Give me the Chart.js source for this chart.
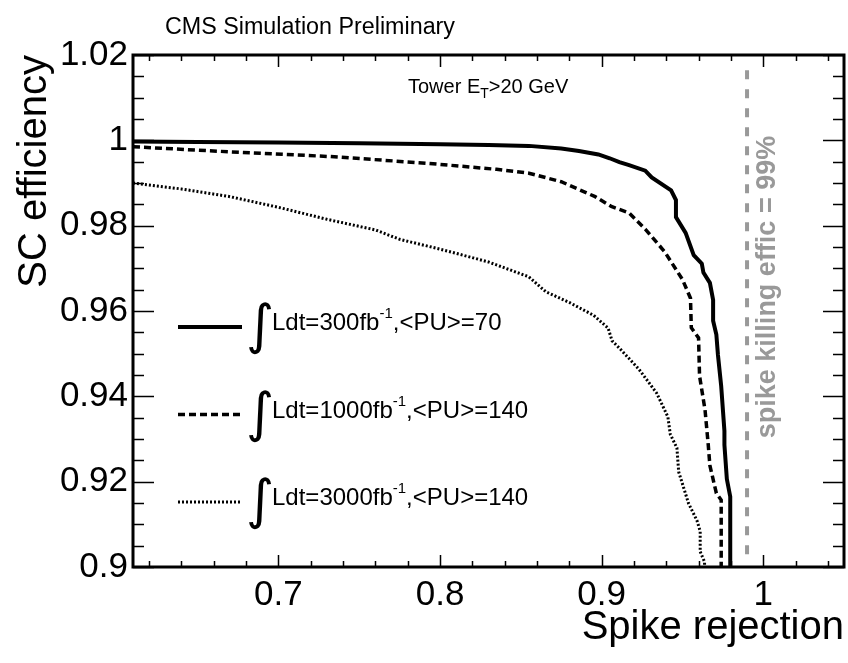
<!DOCTYPE html>
<html>
<head>
<meta charset="utf-8">
<title>SC efficiency vs Spike rejection</title>
<script src="https://cdn.jsdelivr.net/npm/chart.js@4.4.1/dist/chart.umd.min.js"></script>
<style>
  html, body { margin: 0; padding: 0; background: #fff; }
  #graphique { display: block; }
</style>
</head>
<body>
<canvas id="graphique" width="848" height="663"></canvas>
<script>
const lumis = ['300', '1000', '3000'];
const pileups = ['70', '140', '140'];

const rejet300 = [0.61, 0.65, 0.70, 0.75, 0.80, 0.83, 0.855, 0.875, 0.886, 0.898, 0.905, 0.911, 0.917, 0.927, 0.931,
  0.943, 0.946, 0.946, 0.952, 0.957, 0.962, 0.963, 0.967, 0.969, 0.969, 0.971, 0.972, 0.974, 0.976, 0.976, 0.9775,
  0.9796, 0.9796];
const effic300 = [0.9997, 0.9996, 0.9995, 0.9993, 0.9991, 0.9989, 0.9987, 0.9981, 0.9975, 0.9967, 0.9958, 0.9949,
  0.9942, 0.9929, 0.9913, 0.9883, 0.9860, 0.9820, 0.9783, 0.9731, 0.9711, 0.9690, 0.9666, 0.9626, 0.9577, 0.9545,
  0.9497, 0.9424, 0.9319, 0.9286, 0.9206, 0.9165, 0.9];

const rejet1000 = [0.61, 0.67, 0.732, 0.793, 0.835, 0.855, 0.875, 0.896, 0.906, 0.917, 0.927, 0.939, 0.950, 0.955,
  0.9555, 0.960, 0.9606, 0.964, 0.966, 0.967, 0.971, 0.974, 0.974];
const effic1000 = [0.9985, 0.9973, 0.9962, 0.9946, 0.9932, 0.9923, 0.9903, 0.9868, 0.9845, 0.9830, 0.9792, 0.9739,
  0.9674, 0.9630, 0.9561, 0.9537, 0.9448, 0.9368, 0.9286, 0.9238, 0.9173, 0.9157, 0.9];

const rejet3000 = [0.61, 0.64, 0.67, 0.70, 0.73, 0.76, 0.775, 0.80, 0.83, 0.855, 0.8655, 0.88, 0.895, 0.904, 0.9065,
  0.911, 0.923, 0.934, 0.941, 0.9425, 0.9466, 0.9477, 0.9538, 0.959, 0.961, 0.961, 0.9637, 0.9637];
const effic3000 = [0.9900, 0.9886, 0.9868, 0.9843, 0.9815, 0.9790, 0.9768, 0.9745, 0.9715, 0.9680, 0.9645, 0.9620,
  0.9590, 0.9560, 0.9530, 0.9513, 0.9464, 0.9408, 0.9352, 0.9311, 0.9279, 0.9223, 0.9149, 0.9109, 0.9084, 0.9036,
  0.9012, 0.9];

// Ligne verticale "spike killing effic = 99%"
const spikeKillingEff = 0.99;
const spikeKillingSpan = [0.903, 1.018];

const xTickLabels = ['0.7', '0.8', '0.9', '1'];
const yTickLabels = ['0.9', '0.92', '0.94', '0.96', '0.98', '1', '1.02'];

// Graduations mineures (pas de 0.02 en x, 0.005 en y)
const xTicks = [];
for (let i = 31; i <= 52; i++) xTicks.push(i * 0.02);
const yTicks = [];
for (let i = 180; i <= 204; i++) yTicks.push(i * 0.005);

const toPoints = (xs, ys) => xs.map((x, i) => ({ x: x, y: ys[i] }));
const majorLabel = (labels, v) => {
  const found = labels.find(l => Math.abs(Number(l) - v) < 1e-6);
  return found || '';
};

const police = '"Liberation Sans", Arial, Helvetica, sans-serif';
Chart.defaults.font.family = police;
Chart.defaults.color = '#000';

// Cadre, graduations vers l'intérieur (style ROOT)
const cadreRoot = {
  id: 'cadreRoot',
  afterDraw(chart) {
    const { ctx, chartArea: a, scales: { x, y } } = chart;
    ctx.save();
    ctx.strokeStyle = '#000';
    ctx.lineWidth = 1.5;
    ctx.beginPath();
    x.ticks.forEach(t => {
      const px = Math.round(x.getPixelForValue(t.value)) + 0.5;
      const len = t.label ? 12 : 6;
      ctx.moveTo(px, a.bottom); ctx.lineTo(px, a.bottom - len);
      ctx.moveTo(px, a.top); ctx.lineTo(px, a.top + len);
    });
    y.ticks.forEach(t => {
      const py = Math.round(y.getPixelForValue(t.value)) + 0.5;
      const len = t.label ? 21 : 11;
      ctx.moveTo(a.left, py); ctx.lineTo(a.left + len, py);
      ctx.moveTo(a.right, py); ctx.lineTo(a.right - len, py);
    });
    ctx.stroke();
    ctx.lineWidth = 3;
    ctx.strokeRect(a.left, a.top, a.right - a.left, a.bottom - a.top);
    ctx.restore();
  }
};

// Textes et légende
const annotations = {
  id: 'annotations',
  afterDraw(chart) {
    const ctx = chart.ctx;
    ctx.save();
    ctx.fillStyle = '#000';
    ctx.textBaseline = 'alphabetic';
    ctx.textAlign = 'left';

    ctx.font = '23.3px ' + police;
    ctx.fillText('CMS Simulation Preliminary', 165, 34);

    ctx.font = '20px ' + police;
    let x = 408;
    ctx.fillText('Tower E', x, 93);
    x += ctx.measureText('Tower E').width;
    ctx.font = '14px ' + police;
    ctx.fillText('T', x, 98);
    x += ctx.measureText('T').width;
    ctx.font = '20px ' + police;
    ctx.fillText('>20 GeV', x, 93);

    // Texte vertical gris
    ctx.save();
    ctx.translate(768, 287);
    ctx.rotate(-Math.PI / 2);
    ctx.textAlign = 'center';
    ctx.textBaseline = 'middle';
    ctx.font = 'bold 27px ' + police;
    ctx.fillStyle = '#999';
    ctx.fillText('spike killing effic = ' + Math.round(spikeKillingEff * 100) + '%', 0, 0);
    ctx.restore();

    // Légende
    lumis.forEach((lumi, i) => {
      const ds = chart.data.datasets[i];
      const yl = 327 + i * 87.5;
      ctx.strokeStyle = ds.borderColor;
      ctx.lineWidth = ds.borderWidth;
      ctx.setLineDash(ds.borderDash || []);
      ctx.beginPath();
      ctx.moveTo(178, yl);
      ctx.lineTo(242, yl);
      ctx.stroke();
      ctx.setLineDash([]);

      ctx.fillStyle = '#000';
      ctx.font = '54px "DejaVu Sans"';
      ctx.fillText('\u222B', 246, yl + 16);

      let xt = 272;
      const base = yl + 3;
      ctx.font = '24px ' + police;
      const t1 = 'Ldt=' + lumi + 'fb';
      ctx.fillText(t1, xt, base);
      xt += ctx.measureText(t1).width;
      ctx.font = '15px ' + police;
      ctx.fillText('-1', xt, base - 12);
      xt += ctx.measureText('-1').width;
      ctx.font = '24px ' + police;
      ctx.fillText(',<PU>=' + pileups[i], xt, base);
    });
    ctx.restore();
  }
};

const ctx = document.getElementById('graphique').getContext('2d');
new Chart(ctx, {
  type: 'scatter',
  data: {
    datasets: [
      {
        label: '\u222BLdt=300fb-1,<PU>=70',
        data: toPoints(rejet300, effic300),
        showLine: true, borderColor: '#000', borderWidth: 4, borderDash: [],
        pointRadius: 0, tension: 0
      },
      {
        label: '\u222BLdt=1000fb-1,<PU>=140',
        data: toPoints(rejet1000, effic1000),
        showLine: true, borderColor: '#000', borderWidth: 3.5, borderDash: [7, 4],
        pointRadius: 0, tension: 0
      },
      {
        label: '\u222BLdt=3000fb-1,<PU>=140',
        data: toPoints(rejet3000, effic3000),
        showLine: true, borderColor: '#000', borderWidth: 3, borderDash: [2, 2],
        pointRadius: 0, tension: 0
      },
      {
        label: 'spike killing effic = 99%',
        data: spikeKillingSpan.map(v => ({ x: spikeKillingEff, y: v })),
        showLine: true, borderColor: '#999', borderWidth: 4, borderDash: [9, 10],
        pointRadius: 0
      }
    ]
  },
  options: {
    responsive: false,
    animation: false,
    layout: { padding: { top: 55, right: 4, left: 0, bottom: 0 } },
    plugins: {
      legend: { display: false },
      tooltip: { enabled: false }
    },
    scales: {
      x: {
        type: 'linear',
        min: 0.61,
        max: 1.05,
        afterBuildTicks: s => { s.ticks = xTicks.map(v => ({ value: v })); },
        afterFit: s => { s.height = 96; },
        grid: { display: false, drawTicks: false, tickLength: 0 },
        border: { display: false },
        ticks: {
          autoSkip: false, maxRotation: 0, padding: 7,
          font: { size: 35 },
          callback: v => majorLabel(xTickLabels, v)
        },
        title: {
          display: true, text: 'Spike rejection', align: 'end',
          font: { size: 40 }, padding: { top: 0, bottom: 11 }
        }
      },
      y: {
        type: 'linear',
        min: 0.9,
        max: 1.02,
        afterBuildTicks: s => { s.ticks = yTicks.map(v => ({ value: v })); },
        afterFit: s => { s.width = 133; },
        grid: { display: false, drawTicks: false, tickLength: 0 },
        border: { display: false },
        ticks: {
          autoSkip: false, padding: 5,
          font: { size: 35 },
          callback: v => majorLabel(yTickLabels, v)
        },
        title: {
          display: true, text: 'SC efficiency', align: 'end',
          font: { size: 40 }, padding: { top: 11, bottom: 0 }
        }
      }
    }
  },
  plugins: [cadreRoot, annotations]
});
</script>
</body>
</html>
